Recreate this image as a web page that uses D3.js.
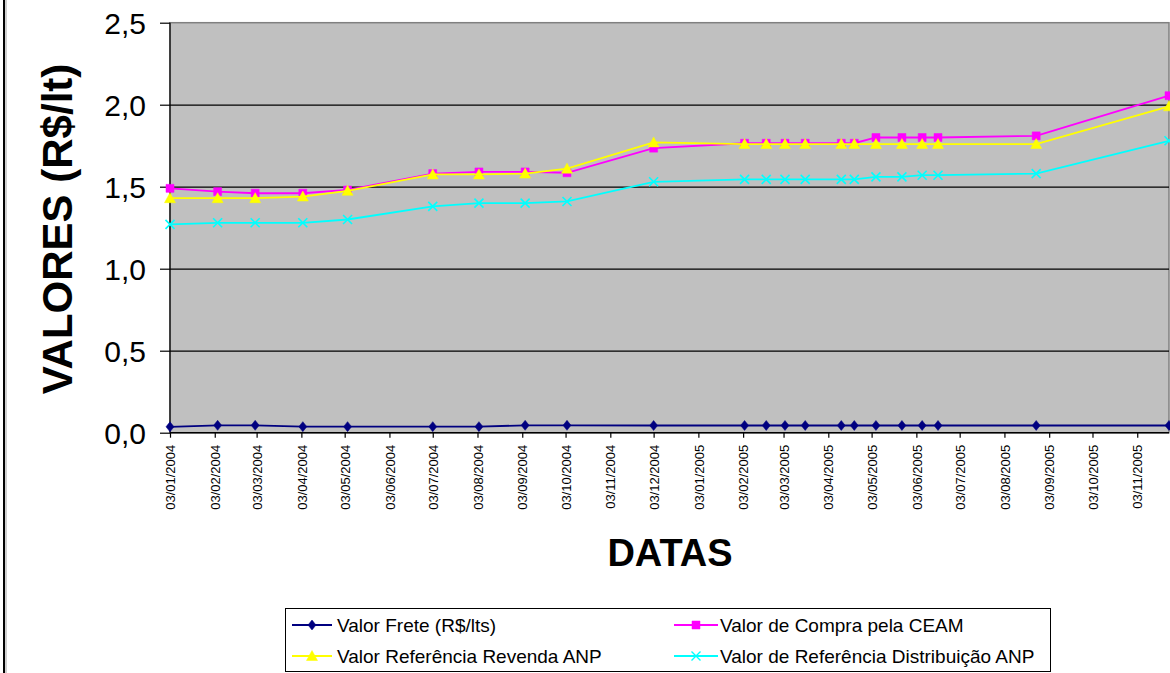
<!DOCTYPE html>
<html>
<head>
<meta charset="utf-8">
<script src="https://cdn.jsdelivr.net/npm/d3@7"></script>
<style>
  html, body { margin: 0; padding: 0; background: #fff; }
  svg { display: block; font-family: "Liberation Sans", Arial, sans-serif; }
</style>
</head>
<body>
<svg id="chart" width="1170" height="673"></svg>
<script>
// ---------------- DATA ----------------
const dates = ["03/01/2004","05/02/2004","02/03/2004","04/04/2004","05/05/2004","03/07/2004",
  "04/08/2004","05/09/2004","04/10/2004","03/12/2004","04/02/2005","19/02/2005","04/03/2005",
  "18/03/2005","12/04/2005","21/04/2005","06/05/2005","24/05/2005","07/06/2005","18/06/2005",
  "25/08/2005","25/11/2005"];
const valorFrete = [0.036,0.045,0.045,0.037,0.037,0.037,0.037,0.045,0.045,0.044,0.044,0.044,
  0.044,0.044,0.044,0.044,0.044,0.044,0.044,0.044,0.044,0.044];
const valorCompraCEAM = [1.49,1.47,1.46,1.46,1.48,1.58,1.59,1.59,1.585,1.735,1.765,1.765,1.765,
  1.765,1.765,1.765,1.80,1.80,1.80,1.80,1.81,2.055];
const valorRevendaANP = [1.43,1.43,1.43,1.44,1.475,1.575,1.575,1.58,1.61,1.77,1.76,1.76,1.76,
  1.76,1.76,1.76,1.76,1.76,1.76,1.76,1.76,1.99];
const valorDistribANP = [1.27,1.28,1.28,1.28,1.30,1.38,1.40,1.40,1.41,1.53,1.545,1.545,1.545,
  1.545,1.545,1.545,1.56,1.56,1.57,1.57,1.58,1.78];
const seriesNames = ["Valor Frete (R$/lts)","Valor de Compra pela CEAM",
  "Valor Referência Revenda ANP","Valor de Referência Distribuição ANP"];
const xTickLabels = ["03/01/2004","03/02/2004","03/03/2004","03/04/2004","03/05/2004","03/06/2004",
  "03/07/2004","03/08/2004","03/09/2004","03/10/2004","03/11/2004","03/12/2004","03/01/2005",
  "03/02/2005","03/03/2005","03/04/2005","03/05/2005","03/06/2005","03/07/2005","03/08/2005",
  "03/09/2005","03/10/2005","03/11/2005"];
const yTickValues = [0, 0.5, 1.0, 1.5, 2.0, 2.5];
const yTickLabels = ["0,0","0,5","1,0","1,5","2,0","2,5"];
const xDomain = ["03/01/2004","25/11/2005"];

// ---------------- SETUP ----------------
const parse = d3.timeParse("%d/%m/%Y");
const fmt = d3.timeFormat("%d/%m/%Y");
const svg = d3.select("#chart");
const plot = {left: 170, top: 22.7, right: 1169, bottom: 432.7};

const x = d3.scaleTime().domain(xDomain.map(parse)).range([plot.left, plot.right]);
const y = d3.scaleLinear().domain([0, 2.5]).range([plot.bottom, plot.top]);

// outer chart border (only left edge visible)
svg.append("rect").attr("x", 4).attr("y", -10).attr("width", 1200).attr("height", 700)
  .attr("fill", "none").attr("stroke", "#000").attr("stroke-width", 2);
svg.append("line").attr("x1", 6).attr("x2", 6).attr("y1", 0).attr("y2", 673)
  .attr("stroke", "#a0a0a0").attr("stroke-width", 1);

// plot background
svg.append("rect").attr("x", plot.left).attr("y", plot.top)
  .attr("width", plot.right - plot.left).attr("height", plot.bottom - plot.top)
  .attr("fill", "#c0c0c0").attr("stroke", "#808080").attr("stroke-width", 1.5);

// gridlines
const grid = svg.append("g").attr("transform", `translate(${plot.left},0)`)
  .call(d3.axisLeft(y).tickValues([0.5, 1.0, 1.5, 2.0]).tickSize(-(plot.right - plot.left)).tickFormat(""));
grid.select(".domain").remove();
grid.selectAll("line").attr("stroke", "#000").attr("stroke-width", 1.2);

// y axis
const yAxis = svg.append("g").attr("transform", `translate(${plot.left},0)`)
  .call(d3.axisLeft(y).tickValues(yTickValues).tickSize(10).tickPadding(14)
    .tickFormat((d, i) => yTickLabels[i]));
yAxis.select(".domain").attr("stroke", "#000").attr("stroke-width", 1.2)
  .attr("d", `M0,${plot.top}V${plot.bottom}`);
yAxis.selectAll("line").attr("stroke", "#000").attr("stroke-width", 1.2);
yAxis.selectAll("text").attr("font-size", 30).attr("fill", "#000")
  .attr("font-family", "Liberation Sans, Arial, sans-serif").attr("dy", "0.36em");

// x axis
const xAxis = svg.append("g").attr("transform", `translate(0,${plot.bottom})`)
  .call(d3.axisBottom(x).tickValues(xTickLabels.map(parse)).tickSize(5)
    .tickFormat(d => fmt(d)));
xAxis.select(".domain").attr("stroke", "#000").attr("stroke-width", 1.5)
  .attr("d", `M${plot.left},0H${plot.right}`);
xAxis.selectAll("line").attr("stroke", "#000").attr("stroke-width", 1.2);
xAxis.selectAll("text")
  .attr("font-size", 13).attr("fill", "#000")
  .attr("font-family", "Liberation Sans, Arial, sans-serif")
  .attr("text-anchor", "end")
  .attr("transform", "rotate(-90)")
  .attr("x", -12).attr("y", 0).attr("dy", "0.36em");

// axis titles
svg.append("text").attr("transform", "translate(72,229) rotate(-90)")
  .attr("text-anchor", "middle").attr("font-size", 42).attr("font-weight", "bold")
  .attr("fill", "#000").text("VALORES (R$/lt)");
svg.append("text").attr("x", 670).attr("y", 566)
  .attr("text-anchor", "middle").attr("font-size", 38).attr("font-weight", "bold")
  .attr("fill", "#000").text("DATAS");

// ---------------- SERIES ----------------
const tallDiamond = { draw(ctx, size) { const w = 4, h = 5; ctx.moveTo(0,-h); ctx.lineTo(w,0); ctx.lineTo(0,h); ctx.lineTo(-w,0); ctx.closePath(); } };
const square = { draw(ctx, size) { const s = 4; ctx.moveTo(-s,-s); ctx.lineTo(s,-s); ctx.lineTo(s,s); ctx.lineTo(-s,s); ctx.closePath(); } };
const tri = { draw(ctx, size) { ctx.moveTo(0,-5.5); ctx.lineTo(5.5,4.5); ctx.lineTo(-5.5,4.5); ctx.closePath(); } };
const xMark = { draw(ctx, size) { const s = 4.5; ctx.moveTo(-s,-s); ctx.lineTo(s,s); ctx.moveTo(-s,s); ctx.lineTo(s,-s); } };

const series = [
  {name: seriesNames[0], values: valorFrete, color: "#000080", sym: tallDiamond, fill: true},
  {name: seriesNames[1], values: valorCompraCEAM, color: "#ff00ff", sym: square, fill: true},
  {name: seriesNames[2], values: valorRevendaANP, color: "#ffff00", sym: tri, fill: true},
  {name: seriesNames[3], values: valorDistribANP, color: "#00ffff", sym: xMark, fill: false}
];

const parsedDates = dates.map(parse);
const line = d3.line().x(d => x(d[0])).y(d => y(d[1]));

series.forEach(s => {
  const pts = parsedDates.map((d, i) => [d, s.values[i]]);
  const g = svg.append("g");
  g.append("path").attr("d", line(pts)).attr("fill", "none")
    .attr("stroke", s.color).attr("stroke-width", 1.8);
  g.selectAll("path.m").data(pts).join("path").attr("class", "m")
    .attr("transform", d => `translate(${x(d[0])},${y(d[1])})`)
    .attr("d", d3.symbol().type(s.sym)())
    .attr("fill", s.fill ? s.color : "none")
    .attr("stroke", s.color).attr("stroke-width", s.fill ? 0.5 : 1.6);
});

// ---------------- LEGEND ----------------
const lg = svg.append("g");
lg.append("rect").attr("x", 285.5).attr("y", 608.5).attr("width", 765).attr("height", 63)
  .attr("fill", "#fff").attr("stroke", "#000").attr("stroke-width", 1);
const legendPos = [
  {x1: 292, x2: 332, tx: 337, y: 625},
  {x1: 674, x2: 718, tx: 720, y: 625},
  {x1: 292, x2: 332, tx: 337, y: 656},
  {x1: 674, x2: 718, tx: 720, y: 656}
];
series.forEach((s, i) => {
  const p = legendPos[i];
  lg.append("line").attr("x1", p.x1).attr("x2", p.x2).attr("y1", p.y).attr("y2", p.y)
    .attr("stroke", s.color).attr("stroke-width", 1.8);
  lg.append("path").attr("transform", `translate(${(p.x1 + p.x2) / 2},${p.y})`)
    .attr("d", d3.symbol().type(s.sym)())
    .attr("fill", s.fill ? s.color : "none")
    .attr("stroke", s.color).attr("stroke-width", s.fill ? 0.5 : 1.4);
  lg.append("text").attr("x", p.tx).attr("y", p.y).attr("dy", "0.36em")
    .attr("font-size", 19).attr("fill", "#000").text(s.name);
});
</script>
</body>
</html>
